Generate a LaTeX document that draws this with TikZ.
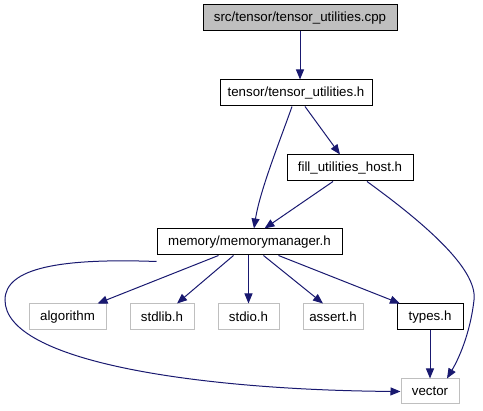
\documentclass[tikz,border=0pt]{standalone}
\usepackage{fontspec}
\setmainfont{Liberation Sans}
\usetikzlibrary{arrows.meta}
\definecolor{edgeblue}{HTML}{191970}
\definecolor{greybox}{HTML}{BFBFBF}
\begin{document}
\begin{tikzpicture}[x=1pt,y=-1pt,
  box/.style={draw=black,line width=1pt,inner sep=0pt,minimum height=26pt,font=\fontsize{13.3}{16}\selectfont},
  sysbox/.style={box,draw=greybox},
  edge/.style={draw=edgeblue,line width=1pt,-{Triangle[length=10pt,width=8pt]}}]
\useasboundingbox (0,0) rectangle (483,411);
\node[box,fill=greybox,minimum width=194pt] (cpp) at (300,18) {src/tensor/tensor\_utilities.cpp};
\node[box,minimum width=152pt] (tu) at (296,93) {tensor/tensor\_utilities.h};
\node[box,minimum width=126pt] (fill) at (350,168) {fill\_utilities\_host.h};
\node[box,minimum width=185pt] (mm) at (249.5,242) {memory/memorymanager.h};
\node[sysbox,minimum width=77pt] (alg) at (67.5,317) {algorithm};
\node[sysbox,minimum width=64pt] (stdlib) at (162,317) {stdlib.h};
\node[sysbox,minimum width=61pt] (stdio) at (248.5,317) {stdio.h};
\node[sysbox,minimum width=60pt] (assert) at (333,317) {assert.h};
\node[box,minimum width=66pt] (types) at (430,317) {types.h};
\node[sysbox,minimum width=58pt,minimum height=25pt] (vector) at (430,391.5) {vector};

\draw[edge] (cpp.south) -- (cpp.south |- tu.north);
\draw[edge] ([xshift=-4pt]tu.south) .. controls (281,138) and (260,190) .. ([xshift=4.5pt]mm.north);
\draw[edge] ([xshift=9pt]tu.south) -- ([xshift=-10pt]fill.north);
\draw[edge] ([xshift=-17pt]fill.south) -- ([xshift=15pt]mm.north);
\draw[edge] ([xshift=17pt]fill.south) .. controls (420,220) and (478,268) .. (474,300) .. controls (470,335) and (458,360) .. ([xshift=17pt]vector.north);
\draw[edge] ([yshift=-6pt]mm.south west) .. controls (60,258) and (5,268) .. (5,300) .. controls (5,362) and (200,390) .. (vector.west);
\draw[edge] ([xshift=-31pt]mm.south) -- ([xshift=30pt]alg.north);
\draw[edge] ([xshift=-16pt]mm.south) -- ([xshift=15pt]stdlib.north);
\draw[edge] ([xshift=-1pt]mm.south) -- (stdio.north);
\draw[edge] ([xshift=14pt]mm.south) -- ([xshift=-10pt]assert.north);
\draw[edge] ([xshift=29pt]mm.south) -- ([xshift=-30pt]types.north);
\draw[edge] (types.south) -- (vector.north);
\end{tikzpicture}
\end{document}
